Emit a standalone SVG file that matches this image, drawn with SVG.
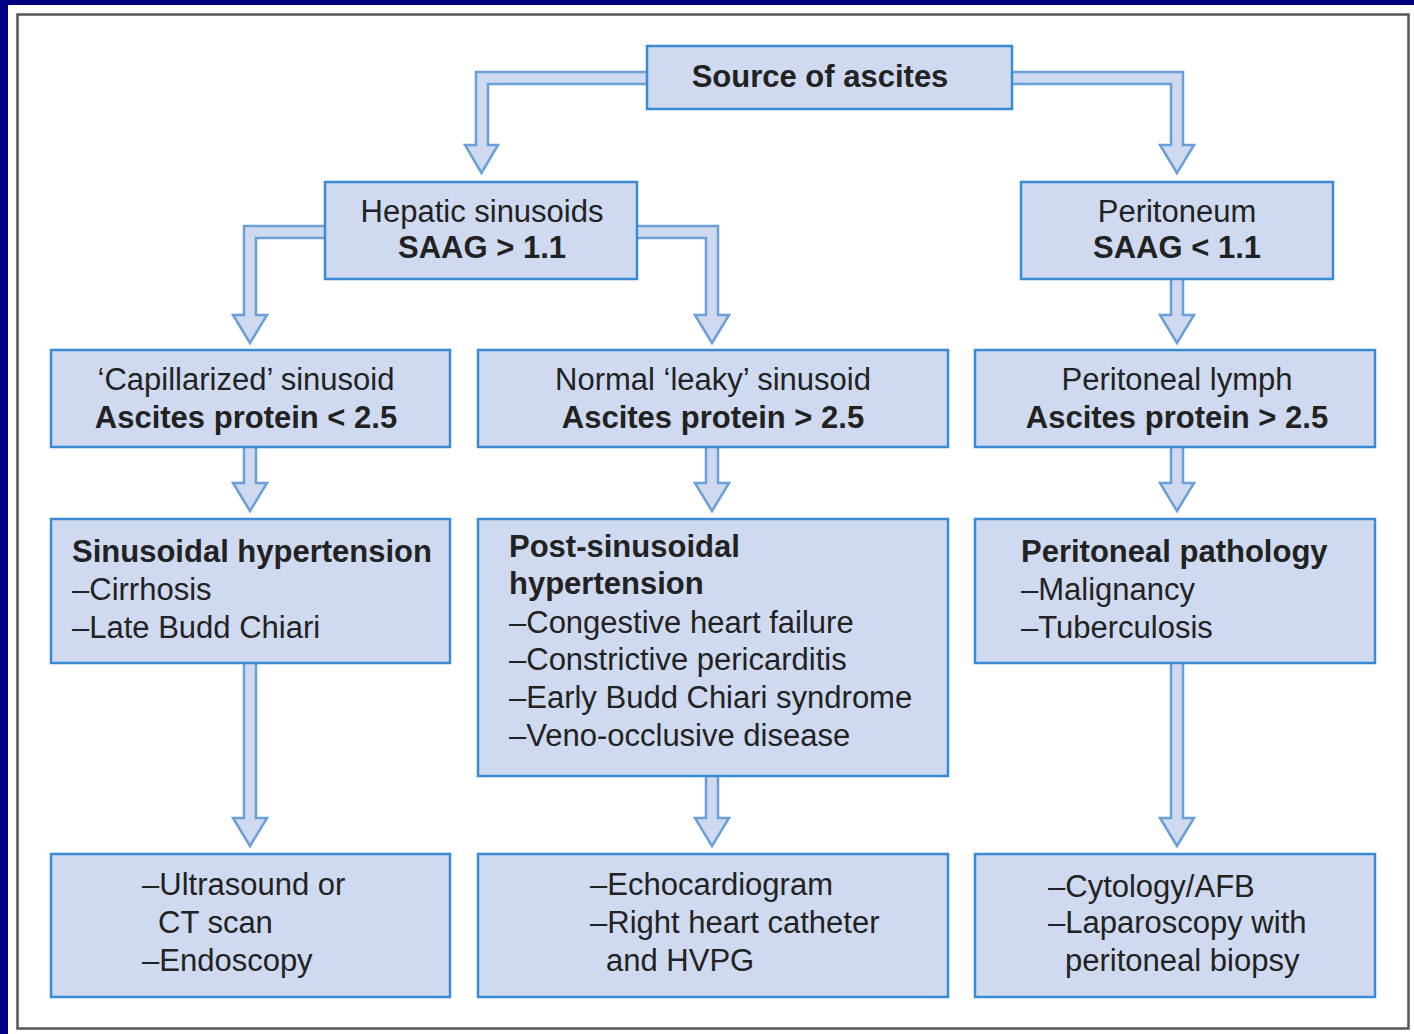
<svg xmlns="http://www.w3.org/2000/svg" width="1414" height="1034" viewBox="0 0 1414 1034">
<style>
.box{fill:#cfdaf0;stroke:#3a8ad6;stroke-width:2.5}
.arr{fill:#cfdaf0;stroke:#6a9fd8;stroke-width:2.5;stroke-linejoin:miter}
text{font-family:"Liberation Sans",Arial,sans-serif;font-size:31px;fill:#222}
.b{font-weight:bold}
.c{text-anchor:middle}
</style>
<rect x="0" y="0" width="1414" height="1034" fill="#000080"/>
<rect x="8" y="5" width="1406" height="1029" fill="#ffffff"/>
<rect x="17.5" y="14.5" width="1391" height="1014" fill="#ffffff" stroke="#555" stroke-width="2.5"/>
<g id="connectors">
<path class="arr" d="M647,72 H476 V145 H465 L481.5,173 L498,145 H488 V84 H647"/>
<path class="arr" d="M1012,72 H1183 V145 H1194 L1177,173 L1160,145 H1171 V84 H1012"/>
<path class="arr" d="M325,226 H244 V315 H233 L250,343 L267,315 H256 V238 H325"/>
<path class="arr" d="M637,226 H718 V315 H729 L712,343 L695,315 H706 V238 H637"/>
<path class="arr" d="M1171,279 V315 H1160 L1177,343 L1194,315 H1183 V279"/>
<path class="arr" d="M244,447 V483 H233 L250,511 L267,483 H256 V447"/>
<path class="arr" d="M706,447 V483 H695 L712,511 L729,483 H718 V447"/>
<path class="arr" d="M1171,447 V483 H1160 L1177,511 L1194,483 H1183 V447"/>
<path class="arr" d="M244,663 V818 H233 L250,846 L267,818 H256 V663"/>
<path class="arr" d="M706,776 V818 H695 L712,846 L729,818 H718 V776"/>
<path class="arr" d="M1171,663 V818 H1160 L1177,846 L1194,818 H1183 V663"/>
</g>
<g id="source">
<rect class="box" x="647" y="46" width="365" height="63"/>
<text class="b c" x="820" y="87">Source of ascites</text>
</g>
<g id="hepatic">
<rect class="box" x="325" y="182" width="312" height="97"/>
<text class="c" x="482" y="222">Hepatic sinusoids</text>
<text class="b c" x="482" y="258">SAAG &gt; 1.1</text>
</g>
<g id="peritoneum">
<rect class="box" x="1021" y="182" width="312" height="97"/>
<text class="c" x="1177" y="222">Peritoneum</text>
<text class="b c" x="1177" y="258">SAAG &lt; 1.1</text>
</g>
<g id="capillarized">
<rect class="box" x="51" y="350" width="399" height="97"/>
<text class="c" x="246" y="390">‘Capillarized’ sinusoid</text>
<text class="b c" x="246" y="428">Ascites protein &lt; 2.5</text>
</g>
<g id="leaky">
<rect class="box" x="478" y="350" width="470" height="97"/>
<text class="c" x="713" y="390">Normal ‘leaky’ sinusoid</text>
<text class="b c" x="713" y="428">Ascites protein &gt; 2.5</text>
</g>
<g id="lymph">
<rect class="box" x="975" y="350" width="400" height="97"/>
<text class="c" x="1177" y="390">Peritoneal lymph</text>
<text class="b c" x="1177" y="428">Ascites protein &gt; 2.5</text>
</g>
<g id="sinusoidal">
<rect class="box" x="51" y="519" width="399" height="144"/>
<text class="b" x="72" y="562">Sinusoidal hypertension</text>
<text x="72" y="600">–Cirrhosis</text>
<text x="72" y="638">–Late Budd Chiari</text>
</g>
<g id="postsinusoidal">
<rect class="box" x="478" y="519" width="470" height="257"/>
<text class="b" x="509" y="557">Post-sinusoidal</text>
<text class="b" x="509" y="594">hypertension</text>
<text x="509" y="633">–Congestive heart failure</text>
<text x="509" y="670">–Constrictive pericarditis</text>
<text x="509" y="708">–Early Budd Chiari syndrome</text>
<text x="509" y="746">–Veno-occlusive disease</text>
</g>
<g id="pathology">
<rect class="box" x="975" y="519" width="400" height="144"/>
<text class="b" x="1021" y="562">Peritoneal pathology</text>
<text x="1021" y="600">–Malignancy</text>
<text x="1021" y="638">–Tuberculosis</text>
</g>
<g id="tests1">
<rect class="box" x="51" y="854" width="399" height="143"/>
<text x="142" y="895">–Ultrasound or</text>
<text x="158" y="933">CT scan</text>
<text x="142" y="971">–Endoscopy</text>
</g>
<g id="tests2">
<rect class="box" x="478" y="854" width="470" height="143"/>
<text x="590" y="895">–Echocardiogram</text>
<text x="590" y="933">–Right heart catheter</text>
<text x="606" y="971">and HVPG</text>
</g>
<g id="tests3">
<rect class="box" x="975" y="854" width="400" height="143"/>
<text x="1048" y="897">–Cytology/AFB</text>
<text x="1048" y="933">–Laparoscopy with</text>
<text x="1065" y="971">peritoneal biopsy</text>
</g>
</svg>
